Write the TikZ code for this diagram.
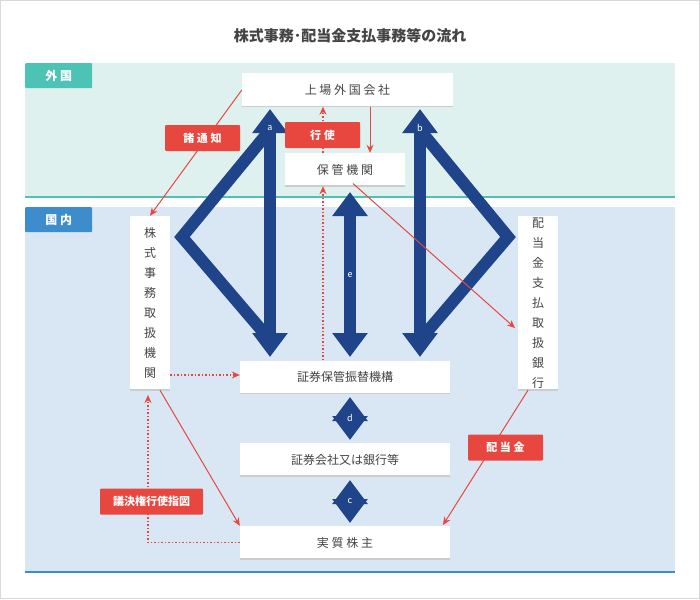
\documentclass[tikz,border=0pt]{standalone}
\usepackage{fontspec}
\setmainfont{Noto Sans CJK JP}
\usetikzlibrary{arrows.meta}
\definecolor{navy}{HTML}{1F4489}
\definecolor{redc}{HTML}{E8473F}
\definecolor{teal}{HTML}{4DC3B5}
\definecolor{tealbg}{HTML}{DFF1EF}
\definecolor{bluebg}{HTML}{D9E7F4}
\definecolor{bluec}{HTML}{3D8CCB}
\definecolor{textc}{HTML}{444444}
\begin{document}
\begin{tikzpicture}[x=1pt,y=-1pt,
  box/.style={fill=white,draw=none,text=textc,font=\fontsize{12}{20}\selectfont,
    inner sep=0pt,minimum height=33pt,drop shadow/.style={}},
  tag/.style={fill=redc,text=white,font=\fontsize{11}{13}\selectfont\bfseries,
    inner sep=0pt,minimum height=26pt,rounded corners=1pt},
  area/.style={fill=white,text=white,font=\fontsize{12}{14}\selectfont\bfseries,
    inner sep=0pt,minimum width=67pt,minimum height=25pt,rounded corners=1pt},
  big/.style={navy,line width=12pt,{Triangle[width=34pt,length=24pt]}-{Triangle[width=34pt,length=24pt]}},
  chev/.style={navy,line width=12pt,line join=miter},
  solid/.style={redc,line width=1pt,-{Stealth[length=8pt,width=7pt]}},
  dot/.style={redc,line width=1.5pt,dotted,-{Stealth[length=8pt,width=7pt]}},
  lab/.style={text=white,font=\fontsize{9}{10}\selectfont}]
\useasboundingbox (0,0) rectangle (700,599);
\draw[black!15,fill=white] (0.5,0.5) rectangle (699.5,598.5);
\node[text=textc,font=\fontsize{15}{18}\selectfont\bfseries] (title) at (350,36) {株式事務･配当金支払事務等の流れ};
% areas
\fill[tealbg] (25,63) rectangle (675,197);
\draw[teal,line width=1.5pt] (25,197) -- (675,197);
\fill[bluebg] (25,207) rectangle (675,572);
\draw[bluec,line width=2pt] (25,572) -- (675,572);
\node[area,fill=teal,anchor=north west] (abroad) at (25,63) {外 国};
\node[area,fill=bluec,anchor=north west] (home) at (25,207) {国 内};
% nodes
\node[box,minimum width=211pt] (issuer) at (347.5,90) {上 場 外 国 会 社};
\node[box,minimum width=120pt] (custody) at (345,169.5) {保 管 機 関};
\node[box,minimum width=40pt,minimum height=174pt,align=center] (agent) at (150,303)
  {株\\式\\事\\務\\取\\扱\\機\\関};
\node[box,minimum width=40pt,minimum height=174pt,align=center] (bank) at (538,303)
  {配\\当\\金\\支\\払\\取\\扱\\銀\\行};
\node[box,minimum width=210pt] (jasdec) at (345,377) {証券保管振替機構};
\node[box,minimum width=210pt] (broker) at (345,459.5) {証券会社又は銀行等};
\node[box,minimum width=210pt] (holder) at (345,542.5) {実 質 株 主};
\foreach \n in {issuer,custody,agent,bank,jasdec,broker,holder}
  \draw[black!20,line width=1.5pt] (\n.south west) -- (\n.south east);
% big arrows
\draw[chev] (270,130) -- (182,237) -- (270,340);
\draw[chev] (420,130) -- (508,237) -- (420,340);
\draw[big] (270,109) -- (270,357);
\draw[big] (420,109) -- (420,357);
\draw[big] (350,192) -- (350,357);
\draw[big,line width=14pt] (350,397) -- (350,440);
\draw[big,line width=14pt] (350,480) -- (350,523);
\node[lab] (la) at (270,128) {a};
\node[lab] (lb) at (420,128) {b};
\node[lab] (le) at (350,275) {e};
\node[lab] (ld) at (350,418) {d};
\node[lab] (lc) at (350,501) {c};
% red arrows
\draw[solid] (issuer.west) -- (agent.north);
\draw[dot] (custody.north -| 323,0) -- (issuer.south -| 323,0);
\draw[solid] (issuer.south -| 370,0) -- (custody.north -| 370,0);
\draw[dot] (jasdec.north -| 323,0) -- (custody.south -| 323,0);
\draw[solid,shorten <=-4pt] (custody.south -| 356,0) -- (515,328);
\draw[dot] (agent.east |- 0,375) -- (jasdec.west |- 0,375);
\draw[solid] (agent.south) ++(10,0) coordinate (a1) (a1) -- (holder.north west);
\draw[dot] (holder.west) -| (148,395);
\draw[solid] (bank.south) ++(-10,0) coordinate (b1) (b1) -- (443,525);
% tags
\node[tag,minimum width=75pt] (notice) at (202.5,138) {諸 通 知};
\node[tag,minimum width=75pt] (exercise) at (322.5,135) {行 使};
\node[tag,minimum width=75pt] (divi) at (505.5,447.5) {配 当 金};
\node[tag,minimum width=103pt] (vote) at (151.5,501.5) {議決権行使指図};
\end{tikzpicture}
\end{document}
